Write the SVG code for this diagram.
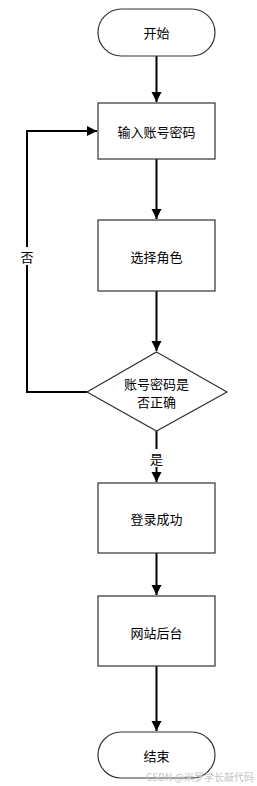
<svg xmlns="http://www.w3.org/2000/svg" width="257" height="786" viewBox="0 0 257 786">
<defs>
<style>
.shape{fill:#fff;stroke:#333;stroke-width:1.2}
.edge{fill:none;stroke:#000;stroke-width:2}
.lbl{font-family:"Noto Sans CJK SC","Liberation Sans",sans-serif;font-size:13px;fill:#000;text-anchor:middle;dominant-baseline:central}
.wm{font-family:"Noto Sans CJK SC","Liberation Sans",sans-serif;font-size:10px;fill:#c4c4c4;text-anchor:end}
</style>
<marker id="arr" markerWidth="10" markerHeight="12" refX="10" refY="5" orient="auto" markerUnits="userSpaceOnUse" viewBox="0 0 10 10">
<path d="M0,0 L10,5 L0,10 Z" fill="#000"/>
</marker>
</defs>
<rect width="257" height="786" fill="#fff"/>
<g id="connectors">
<path class="edge" d="M156.5,56 V102" marker-end="url(#arr)"/>
<path class="edge" d="M156.5,159 V219" marker-end="url(#arr)"/>
<path class="edge" d="M156.5,291 V351" marker-end="url(#arr)"/>
<path class="edge" d="M156.5,431 V482" marker-end="url(#arr)"/>
<path class="edge" d="M156.5,553 V595" marker-end="url(#arr)"/>
<path class="edge" d="M156.5,666 V731" marker-end="url(#arr)"/>
<path class="edge" d="M87,392 H27 V131 H97" marker-end="url(#arr)"/>
<rect x="19" y="247" width="16" height="18" fill="#fff"/>
<text class="lbl" x="27" y="256">否</text>
<rect x="148" y="449" width="17" height="18" fill="#fff"/>
<text class="lbl" x="156.5" y="458">是</text>
</g>
<g id="start">
<rect class="shape" x="98" y="9" width="117" height="47" rx="23.5" ry="23.5"/>
<text class="lbl" x="156.5" y="32.5">开始</text>
</g>
<g id="input">
<rect class="shape" x="98" y="103" width="117" height="56"/>
<text class="lbl" x="156.5" y="131">输入账号密码</text>
</g>
<g id="role">
<rect class="shape" x="98" y="220" width="117" height="71"/>
<text class="lbl" x="156.5" y="256">选择角色</text>
</g>
<g id="check">
<path class="shape" d="M156.5,352 L227,392 L156.5,431 L87,392 Z"/>
<text class="lbl" x="156.5" y="383">账号密码是</text>
<text class="lbl" x="156.5" y="401">否正确</text>
</g>
<g id="success">
<rect class="shape" x="98" y="483" width="117" height="70"/>
<text class="lbl" x="156.5" y="518">登录成功</text>
</g>
<g id="backend">
<rect class="shape" x="98" y="596" width="117" height="70"/>
<text class="lbl" x="156.5" y="632">网站后台</text>
</g>
<g id="end">
<rect class="shape" x="98" y="732" width="117" height="46" rx="23" ry="23"/>
<text class="lbl" x="156.5" y="755">结束</text>
</g>
<text class="wm" x="254" y="781">CSDN @米罗学长敲代码</text>
</svg>
